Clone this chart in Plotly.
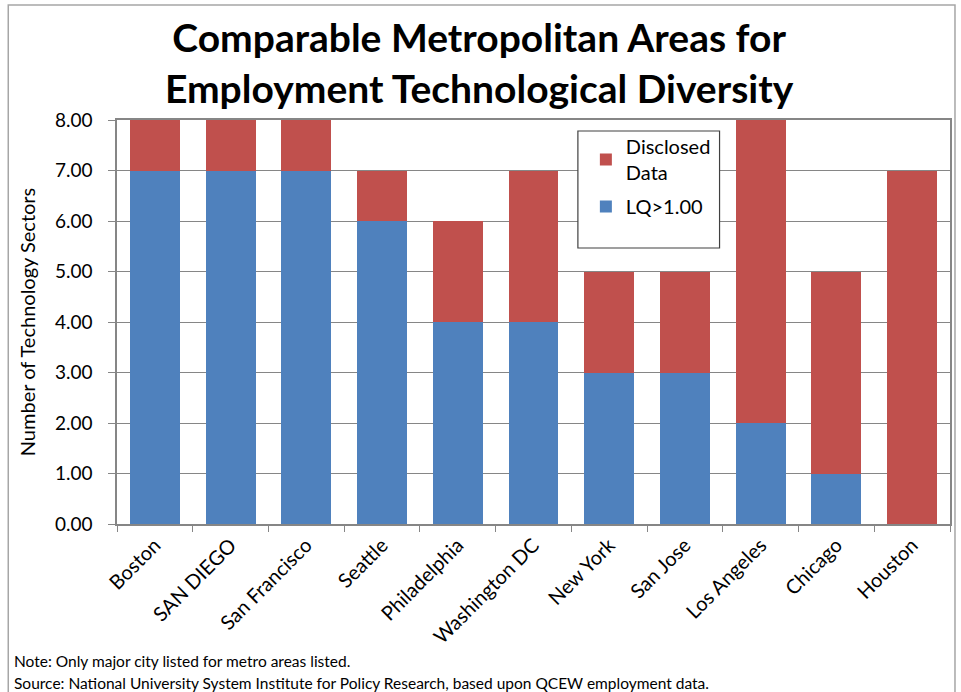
import plotly.graph_objects as go

cities = ["Boston", "SAN DIEGO", "San Francisco", "Seattle", "Philadelphia",
          "Washington DC", "New York", "San Jose", "Los Angeles", "Chicago", "Houston"]
lq = [7, 7, 7, 6, 4, 4, 3, 3, 2, 1, 0]
disclosed = [1, 1, 1, 1, 2, 3, 2, 2, 6, 4, 7]
y_ticks = [0, 1, 2, 3, 4, 5, 6, 7, 8]

BLUE = "#4F81BD"
RED = "#C0504D"
FONT = "Lato"

fig = go.Figure()
fig.add_trace(go.Bar(x=cities, y=lq, name="LQ>1.00", legendgroup="lq", legendrank=2,
                     marker=dict(color=BLUE, line=dict(width=0))))
fig.add_trace(go.Bar(x=cities, y=disclosed, name="Disclosed<br>Data", legendgroup="disc", legendrank=1,
                     marker=dict(color=RED, line=dict(width=0))))

L, R, T, B = 117, 9, 120, 168
W, H = 961, 692
pw, ph = W - L - R, H - T - B

def px(x):
    return (x - L) / pw

def py(y):
    return (H - B - y) / ph

fig.update_layout(
    width=W, height=H,
    margin=dict(l=L, r=R, t=T, b=B),
    barmode="stack",
    bargap=0.34,
    plot_bgcolor="white",
    paper_bgcolor="white",
    font=dict(family=FONT, size=17, color="black"),
    showlegend=True,
    legend=dict(
        x=px(587), y=py(127), xanchor="left", yanchor="top",
        traceorder="grouped",
        font=dict(family=FONT, size=20, color="black"),
        bgcolor="rgba(0,0,0,0)",
        borderwidth=0,
        itemwidth=30,
        tracegroupgap=5,
    ),
    xaxis=dict(
        type="category",
        tickangle=-45,
        tickfont=dict(family=FONT, size=20),
        ticks="outside", ticklen=6, tickcolor="#868686",
        tickson="boundaries",
        showline=True, linecolor="#868686", linewidth=1.5,
        mirror=True,
        showgrid=False,
    ),
    yaxis=dict(
        range=[0, 8],
        tickvals=y_ticks,
        tickformat=".2f",
        tickfont=dict(family=FONT, size=19),
        ticks="outside", ticklen=7, tickcolor="#868686",
        ticklabelstandoff=12,
        showline=True, linecolor="#868686", linewidth=1.5,
        mirror=True,
        showgrid=True, gridcolor="#868686", gridwidth=1,
        title=dict(text="Number of Technology Sectors", font=dict(family=FONT, size=20), standoff=14),
        zeroline=False,
    ),
    title=dict(
        text="<b>Comparable Metropolitan Areas for<br>Employment Technological Diversity</b>",
        font=dict(family=FONT, size=39, color="black"),
        x=px(480), xanchor="center", xref="paper",
        y=1 - 52 / H, yanchor="top",
    ),
)

# outer chart border
fig.add_shape(type="rect", xref="paper", yref="paper",
              x0=px(8), x1=px(957), y0=py(720), y1=py(5),
              line=dict(color="#A6A6A6", width=1.5), fillcolor="rgba(0,0,0,0)", layer="below")
# legend box
fig.add_shape(type="rect", xref="paper", yref="paper",
              x0=px(579), x1=px(721), y0=py(248), y1=py(131),
              line=dict(color="#404040", width=1.2), fillcolor="white", layer="above")

fig.add_annotation(text="Note: Only major city listed for metro areas listed.",
                   xref="paper", yref="paper", x=px(12), y=py(661), xanchor="left", yanchor="middle",
                   showarrow=False, font=dict(family=FONT, size=15.5))
fig.add_annotation(text="Source: National University System Institute for Policy Research, based upon QCEW employment data.",
                   xref="paper", yref="paper", x=px(12), y=py(683), xanchor="left", yanchor="middle",
                   showarrow=False, font=dict(family=FONT, size=15.5))

fig.write_html("out.html")
